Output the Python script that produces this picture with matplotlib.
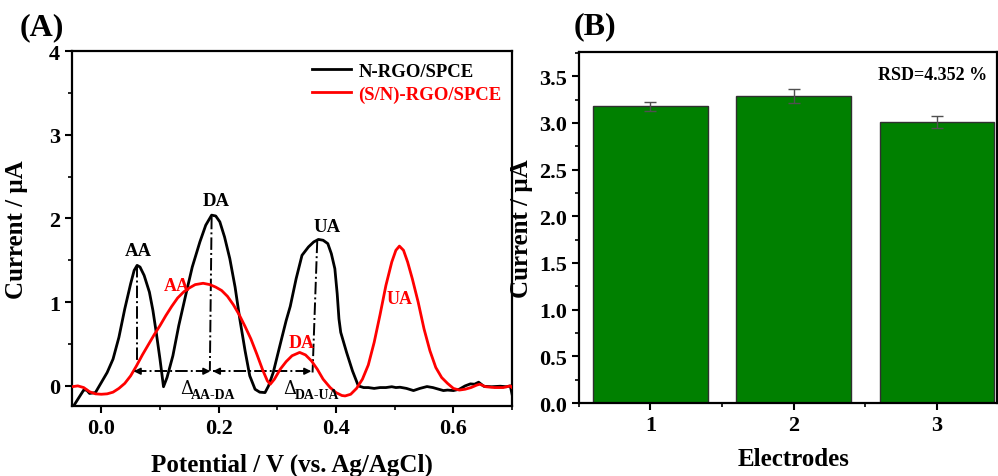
import matplotlib
matplotlib.use("Agg")
import matplotlib.pyplot as plt
from matplotlib.ticker import MultipleLocator

plt.rcParams["font.family"] = ["Liberation Serif", "DejaVu Serif"]
plt.rcParams["font.weight"] = "bold"
plt.rcParams["mathtext.fontset"] = "stix"

# ---- panel A : DPV curves ----
pot_n = [-0.049, -0.04, -0.03, -0.025, -0.02, -0.01, 0.0, 0.01, 0.02, 0.03, 0.04,
         0.05, 0.056, 0.061, 0.066, 0.073, 0.082, 0.088, 0.094, 0.10, 0.106, 0.112,
         0.122, 0.132, 0.145, 0.155, 0.168, 0.178, 0.188, 0.195, 0.202, 0.21, 0.219,
         0.228, 0.236, 0.245, 0.253, 0.262, 0.27, 0.279, 0.285, 0.293, 0.305, 0.315,
         0.322, 0.332, 0.342, 0.353, 0.362, 0.37, 0.378, 0.386, 0.392, 0.398, 0.402,
         0.405, 0.408, 0.418, 0.428, 0.438, 0.447, 0.455, 0.465, 0.475, 0.485, 0.495,
         0.502, 0.509, 0.52, 0.532, 0.543, 0.555, 0.565, 0.575, 0.583, 0.59, 0.6,
         0.61, 0.62, 0.629, 0.636, 0.643, 0.652, 0.665, 0.68, 0.69, 0.697, 0.7]
cur_n = [-0.26, -0.16, -0.05, -0.05, -0.09, -0.08, 0.04, 0.16, 0.32, 0.58, 0.92,
         1.22, 1.38, 1.44, 1.42, 1.32, 1.12, 0.9, 0.62, 0.32, -0.01, 0.1,
         0.36, 0.72, 1.12, 1.42, 1.72, 1.92, 2.04, 2.03, 1.96, 1.78, 1.52,
         1.18, 0.8, 0.42, 0.12, -0.04, -0.075, -0.08, 0.0, 0.16, 0.5, 0.78,
         0.95, 1.28, 1.56, 1.66, 1.72, 1.75, 1.74, 1.7, 1.58, 1.40, 1.1,
         0.8, 0.64, 0.40, 0.18, 0.0, -0.02, -0.02, -0.03, -0.02, -0.02, -0.01,
         -0.02, -0.016, -0.03, -0.056, -0.03, -0.008, -0.02, -0.04, -0.056, -0.05, -0.056,
         -0.04, 0.0, 0.024, 0.02, 0.044, -0.005, -0.01, -0.004, -0.01, 0.0, -0.1]

pot_sn = [-0.05, -0.04, -0.03, -0.02, -0.01, 0.0, 0.01, 0.02, 0.03, 0.04, 0.05,
          0.06, 0.07, 0.08, 0.09, 0.10, 0.11, 0.12, 0.13, 0.14, 0.15, 0.16,
          0.1735, 0.185, 0.195, 0.205, 0.215, 0.225, 0.235, 0.245, 0.255, 0.265,
          0.275, 0.283, 0.288, 0.295, 0.305, 0.315, 0.325, 0.338, 0.348, 0.358,
          0.368, 0.378, 0.39, 0.40, 0.41, 0.4155, 0.425, 0.435, 0.445, 0.455,
          0.465, 0.475, 0.485, 0.495, 0.502, 0.508, 0.515, 0.522, 0.53, 0.54,
          0.55, 0.56, 0.57, 0.58, 0.59, 0.60, 0.61, 0.62, 0.63, 0.64, 0.645,
          0.655, 0.67, 0.685, 0.697, 0.7]
cur_sn = [-0.01, 0.0, -0.02, -0.07, -0.095, -0.1, -0.095, -0.075, -0.03, 0.03, 0.12,
          0.24, 0.37, 0.49, 0.61, 0.72, 0.84, 0.95, 1.05, 1.12, 1.17, 1.21,
          1.226, 1.21, 1.18, 1.14, 1.07, 0.97, 0.85, 0.71, 0.56, 0.38,
          0.19, 0.06, 0.02, 0.08, 0.2, 0.29, 0.36, 0.40, 0.37, 0.30,
          0.2, 0.08, -0.02, -0.08, -0.115, -0.12, -0.1, -0.03, 0.08, 0.25,
          0.52, 0.85, 1.2, 1.48, 1.62, 1.67, 1.62, 1.48, 1.28, 1.0,
          0.68, 0.42, 0.22, 0.1, 0.03, -0.03, -0.05, -0.04, -0.02, 0.01, 0.02,
          -0.01, -0.02, -0.02, 0.0, -0.02]

# peak labels (text, x, y)
peaks_n = [("AA", 0.063, 1.62), ("DA", 0.196, 2.22), ("UA", 0.384, 1.90)]
peaks_sn = [("AA", 0.128, 1.20), ("DA", 0.342, 0.52), ("UA", 0.509, 1.05)]

# dash-dot peak markers: (x_top, y_top, x_bottom, y_bottom)
markers = [(0.061, 1.44, 0.061, 0.27),
           (0.188, 2.02, 0.185, 0.18),
           (0.368, 1.735, 0.360, 0.16)]
# peak separation arrows at y = sep_y
sep_y = 0.175
seps = [(0.055, 0.186, "AA-DA", 0.145), (0.190, 0.358, "DA-UA", 0.322)]

# ---- panel B : reproducibility ----
electrodes = [1, 2, 3]
peak_cur = [3.176, 3.283, 3.010]
peak_err = [0.050, 0.075, 0.063]

fig = plt.figure(figsize=(9.98, 4.77), dpi=100)
ax = fig.add_axes([0.0721, 0.1468, 0.441, 0.744])
bx = fig.add_axes([0.580, 0.153, 0.419, 0.736])

ax.plot(pot_n, cur_n, color="black", lw=2, label="N-RGO/SPCE", zorder=3)
ax.plot(pot_sn, cur_sn, color="red", lw=2, label="(S/N)-RGO/SPCE", zorder=3)

for t, x, y in peaks_n:
    ax.text(x, y, t, color="black", fontsize=13.5, fontweight="bold",
            ha="center", va="center")
for t, x, y in peaks_sn:
    ax.text(x, y, t, color="red", fontsize=13, fontweight="bold",
            ha="center", va="center")

for x0, y0, x1, y1 in markers:
    ax.plot([x0, x1], [y0, y1], color="black", lw=1.4, ls="-.", zorder=2)

for xa, xb, sub, xt in seps:
    ax.plot([xa, xb], [sep_y, sep_y], color="black", lw=1.4, ls="-.", zorder=2)
    d = 0.012
    ax.annotate("", xy=(xa, sep_y), xytext=(xa + d, sep_y),
                arrowprops=dict(arrowstyle="-|>", color="black", lw=1.2,
                                mutation_scale=10, shrinkA=0, shrinkB=0))
    ax.annotate("", xy=(xb, sep_y), xytext=(xb - d, sep_y),
                arrowprops=dict(arrowstyle="-|>", color="black", lw=1.2,
                                mutation_scale=10, shrinkA=0, shrinkB=0))
    ax.text(xt, -0.02, "Δ", fontsize=13, fontweight="normal",
            ha="center", va="center", family=["DejaVu Serif"])
    ax.text(xt + 0.008, -0.1, sub, fontsize=10, fontweight="bold",
            ha="left", va="center")

ax.set_xlim(-0.05, 0.70)
ax.set_ylim(-0.24, 4)
ax.xaxis.set_major_locator(MultipleLocator(0.2))
ax.xaxis.set_minor_locator(MultipleLocator(0.1))
ax.yaxis.set_major_locator(MultipleLocator(1))
ax.yaxis.set_minor_locator(MultipleLocator(0.5))
ax.xaxis.set_major_formatter(plt.FuncFormatter(lambda v, p: f"{v:.1f}"))
ax.set_xlabel("Potential / V (vs. Ag/AgCl)", fontsize=18, fontweight="bold")
ax.set_ylabel("Current / μA", fontsize=18, fontweight="bold")
ax.xaxis.set_label_coords(0.50, -0.13)
ax.yaxis.set_label_coords(-0.10, 0.5)

leg = ax.legend(loc="upper right", bbox_to_anchor=(1.015, 1.015), frameon=False,
                prop=dict(size=13.5, weight="bold"), handlelength=2.1,
                handletextpad=0.4, labelspacing=0.3)
for txt, ln in zip(leg.get_texts(), leg.get_lines()):
    txt.set_color(ln.get_color())

bx.bar(electrodes, peak_cur, width=0.8, color="#008000", edgecolor="#303030",
       linewidth=1, zorder=2)
bx.errorbar(electrodes, peak_cur, yerr=peak_err, fmt="none", ecolor="#505050",
            elinewidth=1, capsize=4, capthick=1, zorder=3)
bx.text(2.97, 3.52, "RSD=4.352 %", fontsize=13, fontweight="bold",
        ha="center", va="center")
bx.set_xlim(0.5, 3.42)
bx.set_ylim(0, 3.76)
bx.set_xticks(electrodes)
bx.xaxis.set_minor_locator(MultipleLocator(0.5))
bx.yaxis.set_major_locator(MultipleLocator(0.5))
bx.yaxis.set_minor_locator(MultipleLocator(0.25))
bx.yaxis.set_major_formatter(plt.FuncFormatter(lambda v, p: f"{v:.1f}"))
bx.set_xlabel("Electrodes", fontsize=18, fontweight="bold")
bx.set_ylabel("Current / μA", fontsize=18, fontweight="bold")
bx.xaxis.set_label_coords(0.514, -0.125)
bx.yaxis.set_label_coords(-0.11, 0.5)

for a in (ax, bx):
    for s in a.spines.values():
        s.set_linewidth(1.6)
    a.tick_params(which="major", direction="out", length=5, width=1.5,
                  labelsize=16, top=False, right=False)
    a.tick_params(which="minor", direction="out", length=3, width=1.2,
                  top=False, right=False)
    for lab in a.get_xticklabels() + a.get_yticklabels():
        lab.set_fontweight("bold")

fig.text(0.042, 0.941, "(A)", fontsize=23, fontweight="bold",
         ha="center", va="center")
fig.text(0.596, 0.945, "(B)", fontsize=23, fontweight="bold",
         ha="center", va="center")

fig.savefig("out.png", dpi=100)
